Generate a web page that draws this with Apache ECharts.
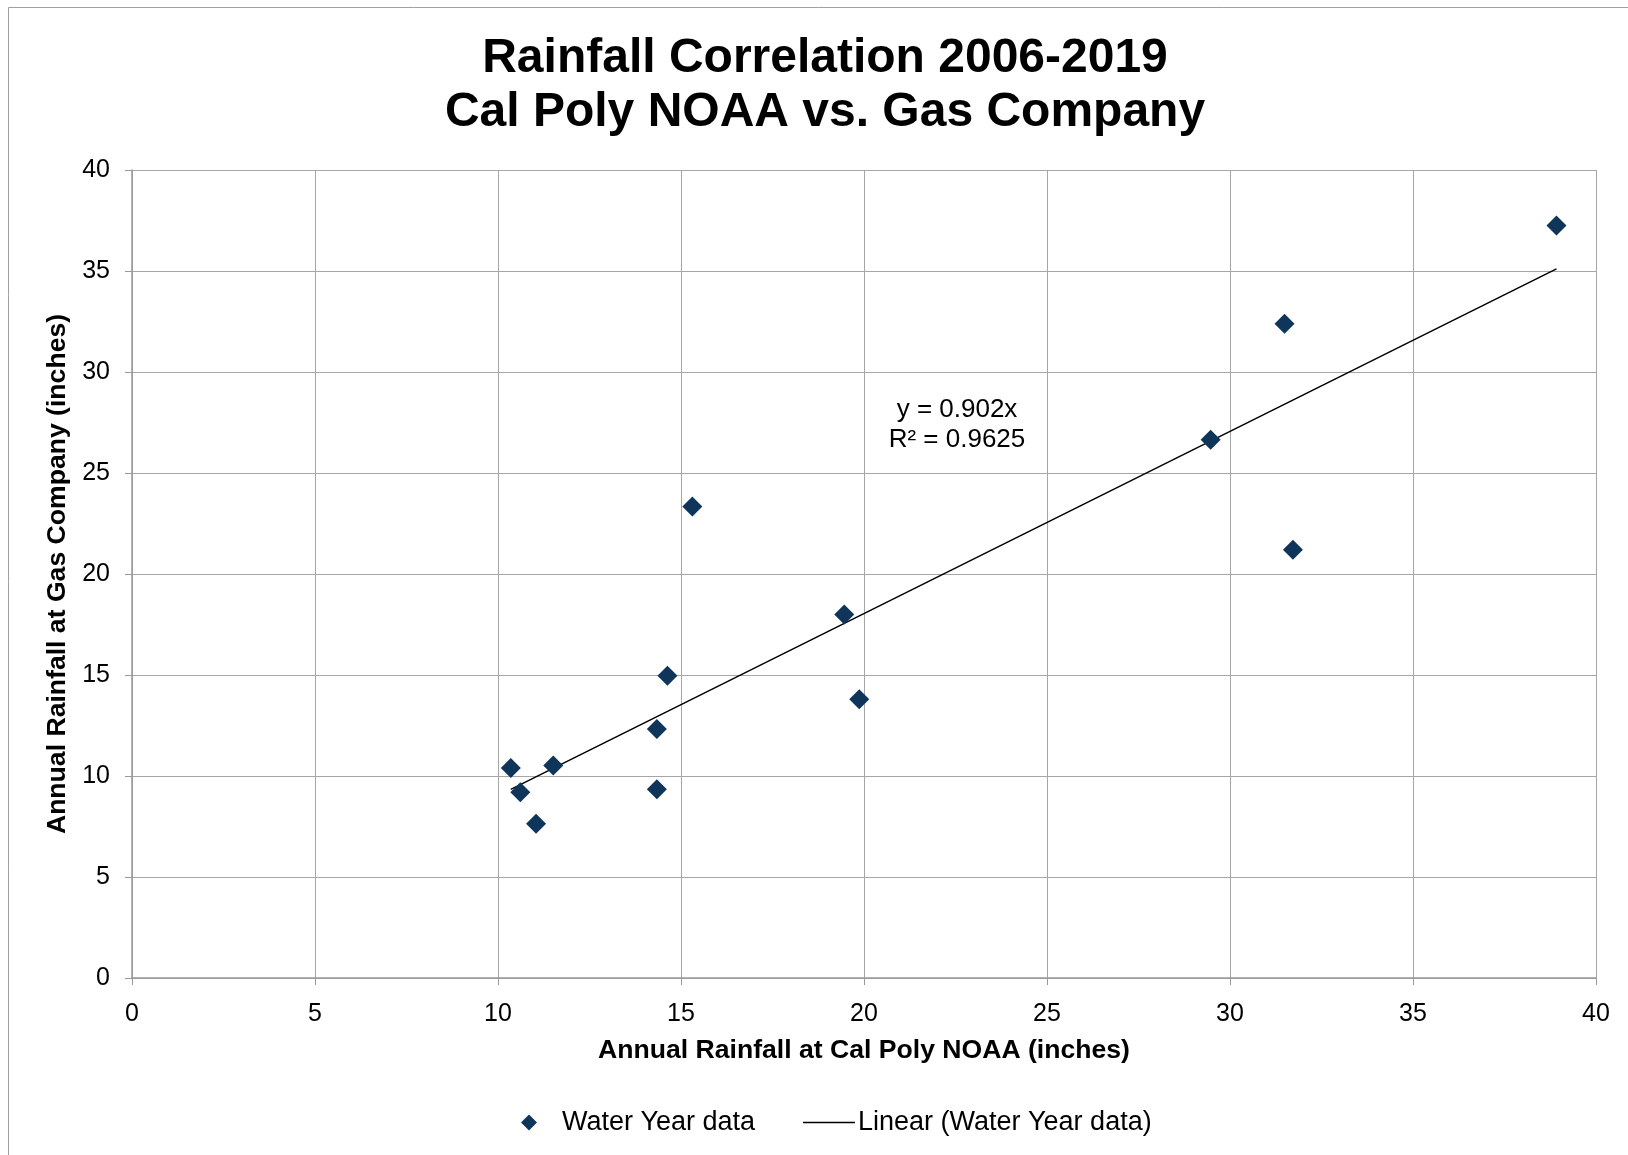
<!DOCTYPE html>
<html>
<head>
<meta charset="utf-8">
<script src="https://cdn.jsdelivr.net/npm/echarts@6/dist/echarts.min.js"></script>
<style>
html,body{margin:0;padding:0;background:#fff;}
#chart{width:1628px;height:1155px;}
</style>
</head>
<body>
<div id="chart"></div>
<script>
// Data
const calPolyNOAA = [15.31, 19.46, 14.63, 19.87, 14.34, 10.35, 11.51, 10.61, 14.34, 11.04, 38.92, 31.49, 29.47, 31.72];
const gasCompany  = [23.34, 18.00, 14.96, 13.80, 12.33, 10.39, 10.52, 9.20, 9.35, 7.63, 37.25, 32.39, 26.65, 21.20];
const trendSlope = 0.902;
const trendR2 = 0.9625;
const xTicks = [0, 5, 10, 15, 20, 25, 30, 35, 40];
const yTicks = [0, 5, 10, 15, 20, 25, 30, 35, 40];

const points = calPolyNOAA.map((x, i) => [x, gasCompany[i]]);
const xMin = Math.min(...calPolyNOAA), xMax = Math.max(...calPolyNOAA);
const trend = [[xMin, trendSlope * xMin], [xMax, trendSlope * xMax]];

const FONT = '"Liberation Sans", Arial, sans-serif';
const chart = echarts.init(document.getElementById('chart'), null, {renderer: 'canvas'});
chart.setOption({
  animation: false,
  backgroundColor: '#ffffff',
  textStyle: {fontFamily: FONT},
  title: {
    text: 'Rainfall Correlation 2006-2019\nCal Poly NOAA vs. Gas Company',
    left: 820,
    textAlign: 'center',
    top: 27,
    textStyle: {fontFamily: FONT, fontSize: 48, fontWeight: 'bold', color: '#000', lineHeight: 54}
  },
  graphic: [
    {type: 'rect', silent: true, shape: {x: 8.5, y: 7.5, width: 1700, height: 1300},
     style: {fill: 'none', stroke: '#a0a0a0', lineWidth: 1}},
    {type: 'text', silent: true, x: 957, y: 425,
     style: {text: 'y = ' + trendSlope + 'x\nR² = ' + trendR2, textAlign: 'center', textVerticalAlign: 'middle',
             font: '26px ' + FONT, fill: '#000', lineHeight: 30}}
  ],
  grid: {left: 132, right: 32, top: 170, bottom: 177, containLabel: false},
  xAxis: {
    type: 'value', min: xTicks[0], max: xTicks[xTicks.length - 1], interval: 5,
    name: 'Annual Rainfall at Cal Poly NOAA (inches)', nameLocation: 'middle', nameGap: 59,
    nameTextStyle: {fontFamily: FONT, fontSize: 26.6, fontWeight: 'bold', color: '#000'},
    axisLine: {show: true, lineStyle: {color: '#999', width: 1.5}},
    axisTick: {show: true, length: 7, lineStyle: {color: '#999'}},
    axisLabel: {fontFamily: FONT, fontSize: 25, color: '#000', margin: 24},
    splitLine: {show: true, lineStyle: {color: '#a6a6a6', width: 1}}
  },
  yAxis: {
    type: 'value', min: yTicks[0], max: yTicks[yTicks.length - 1], interval: 5,
    name: 'Annual Rainfall at Gas Company (inches)', nameLocation: 'middle', nameGap: 61,
    nameTextStyle: {fontFamily: FONT, fontSize: 26.6, fontWeight: 'bold', color: '#000'},
    axisLine: {show: true, lineStyle: {color: '#999', width: 1.5}},
    axisTick: {show: true, length: 7, lineStyle: {color: '#999'}},
    axisLabel: {fontFamily: FONT, fontSize: 25, color: '#000', margin: 22},
    splitLine: {show: true, lineStyle: {color: '#a6a6a6', width: 1}}
  },
  legend: [
    {
      data: [{name: 'Water Year data', icon: 'diamond'}],
      left: 516, top: 1104, itemWidth: 16, itemHeight: 16,
      itemStyle: {color: '#0f355b', opacity: 1},
      textStyle: {fontFamily: FONT, fontSize: 27, color: '#000', padding: [0, 0, 0, 20]}
    },
    {
      data: [{name: 'Linear (Water Year data)', icon: 'rect'}],
      left: 798, top: 1104, itemWidth: 52, itemHeight: 1.5,
      itemStyle: {color: '#000'},
      textStyle: {fontFamily: FONT, fontSize: 27, color: '#000', padding: [0, 0, 0, -2]}
    }
  ],
  series: [
    {
      name: 'Water Year data', type: 'scatter', data: points,
      symbol: 'diamond', symbolSize: 20,
      itemStyle: {color: '#0f355b', opacity: 1}, z: 3
    },
    {
      name: 'Linear (Water Year data)', type: 'line', data: trend,
      symbol: 'none', lineStyle: {color: '#000', width: 1.5},
      itemStyle: {color: '#000'}, z: 2
    }
  ]
});
</script>
</body>
</html>
